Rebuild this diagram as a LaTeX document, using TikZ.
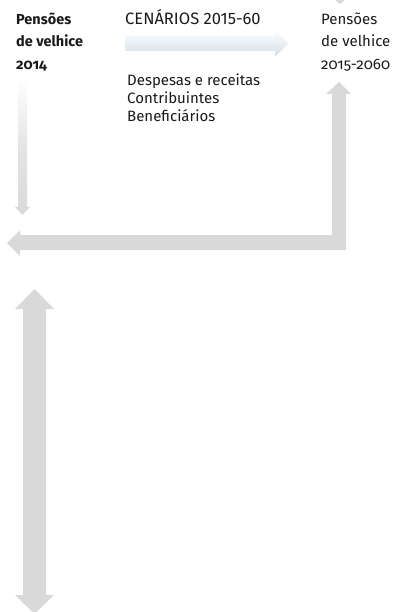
\documentclass[tikz,border=0pt]{standalone}
\usepackage{fontspec}
\setmainfont{Fira Sans}
\newfontfamily\oldnum[Numbers=OldStyle]{Fira Sans}
\definecolor{arrowgrey}{HTML}{D9D9D9}
\definecolor{arrowblue}{HTML}{D1DEE6}
\definecolor{txt}{HTML}{1A1A1A}
\begin{document}
\begin{tikzpicture}[x=1pt,y=-1pt,
  lbl/.style={anchor=base west,inner sep=0pt,align=left,text=txt,font=\oldnum\fontsize{15}{22.7}\selectfont},
  mid/.style={anchor=base west,inner sep=0pt,align=left,text=txt,font=\fontsize{15}{18.3}\selectfont},
  greyarrow/.style={fill=arrowgrey,draw=none}]
\useasboundingbox (0,0) rectangle (395,612);
% texts (anchor = baseline of the last line)
\node[lbl,font=\oldnum\bfseries\fontsize{14.5}{22.7}\selectfont] (left) at (16,69.5) {Pensões\\de velhice\\2014};
\node[mid,font=\fontsize{16.5}{18.3}\selectfont] (cen) at (125,25) {CENÁRIOS 2015-60};
\node[mid] (desp) at (127,121.7) {Despesas e receitas\\Contribuintes\\Beneficiários};
\node[lbl] (right) at (321,69.5) {Pensões\\de velhice\\2015-2060};
% gradient arrow
\shade[left color=white,right color=arrowblue,shading angle=0]
  (125,36) -- (275,36) -- (275,30) -- (288,43.5) -- (275,57) -- (275,51) -- (125,51) -- cycle;
% left down arrow with fade
\shade[top color=white,bottom color=arrowgrey,middle color=arrowgrey!70]
  (18,78) -- (27,78) -- (27,207) -- (30,207) -- (22.5,215) -- (15,207) -- (18,207) -- cycle;
% L-shaped return arrow
\fill[greyarrow] (339,82) -- (351,94) -- (346,94) -- (346,250) -- (20,250) -- (20,256)
  -- (7,243) -- (20,230) -- (20,235) -- (332,235) -- (332,94) -- (326,94) -- cycle;
% small cut tip at top right
\fill[greyarrow] (335,0) -- (345,0) -- (340,4) -- cycle;
% double arrow
\fill[greyarrow] (34.5,289) -- (54,309) -- (46,309) -- (46,595) -- (54,595) -- (34.5,614)
  -- (15,595) -- (23,595) -- (23,309) -- (15,309) -- cycle;
\end{tikzpicture}
\end{document}
